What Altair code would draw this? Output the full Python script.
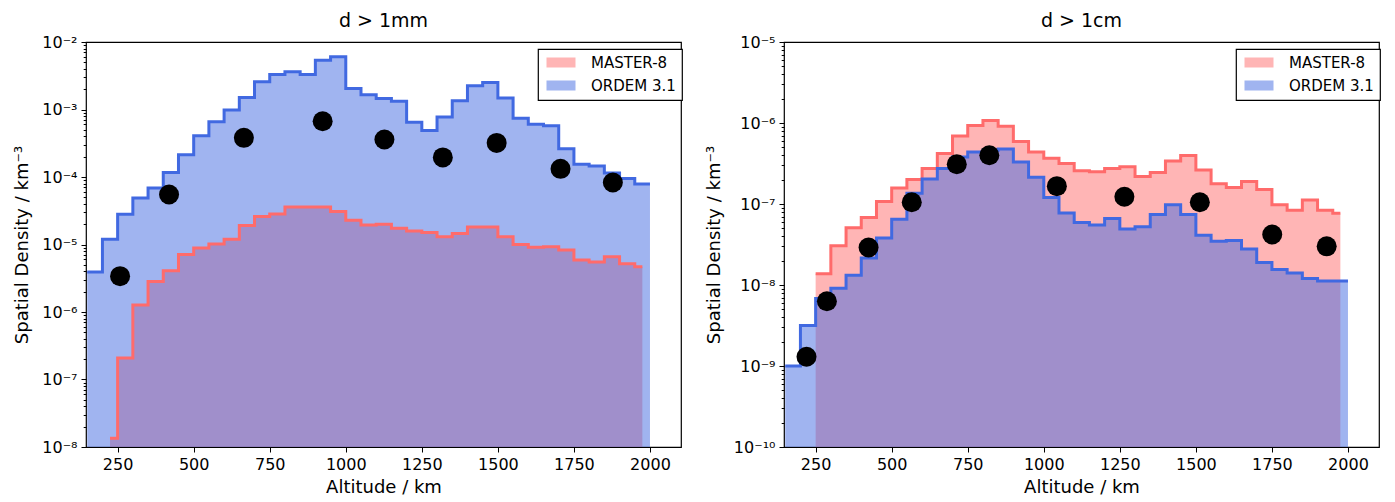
import altair as alt
import pandas as pd

# ---------------- data ----------------
# d > 1mm panel
ordem_1mm_alt = list(range(150, 2000, 50))
ordem_1mm_end = 2000
ordem_1mm_val = [3.9e-6, 1.2e-5, 2.8e-5, 4.9e-5, 6.9e-5, 1.17e-4, 2.14e-4, 4.07e-4, 6.6e-4,
                 9.8e-4, 1.51e-3, 2.57e-3, 3.31e-3, 3.63e-3, 3.31e-3, 5.37e-3, 6.03e-3,
                 2.04e-3, 1.66e-3, 1.45e-3, 1.32e-3, 6.46e-4, 4.9e-4, 7.76e-4, 1.35e-3,
                 2.24e-3, 2.51e-3, 1.48e-3, 7.41e-4, 6.03e-4, 5.75e-4, 2.63e-4, 1.55e-4,
                 1.45e-4, 1.15e-4, 9.5e-5, 7.9e-5]
master_1mm_alt = [225] + list(range(250, 2000, 50))
master_1mm_end = 1975
master_1mm_val = [1.35e-8, 2.09e-7, 1.27e-6, 2.82e-6, 4.07e-6, 7.08e-6, 8.9e-6, 1.02e-5, 1.2e-5,
                  1.91e-5, 2.6e-5, 2.82e-5, 3.59e-5, 3.59e-5, 3.59e-5, 3.09e-5, 2.29e-5,
                  1.95e-5, 2.0e-5, 1.74e-5, 1.58e-5, 1.51e-5, 1.30e-5, 1.46e-5, 1.82e-5,
                  1.82e-5, 1.30e-5, 1.0e-5, 9.1e-6, 9.3e-6, 8.3e-6, 5.9e-6, 5.5e-6, 6.6e-6,
                  5.2e-6, 4.7e-6]
obs_1mm_alt = [258, 419, 665, 924, 1127, 1319, 1496, 1706, 1878]
obs_1mm_val = [3.4e-6, 5.5e-5, 3.8e-4, 6.7e-4, 3.6e-4, 1.95e-4, 3.2e-4, 1.32e-4, 8.3e-5]

# d > 1cm panel
ordem_1cm_alt = list(range(150, 2000, 50))
ordem_1cm_end = 2000
ordem_1cm_val = [1.0e-9, 3.16e-9, 6.8e-9, 9.1e-9, 1.32e-8, 2.16e-8, 3.8e-8, 6.46e-8, 1.36e-7,
                 2.04e-7, 2.75e-7, 3.8e-7, 4.37e-7, 4.62e-7, 4.79e-7, 3.31e-7, 2.14e-7,
                 1.2e-7, 7.76e-8, 5.89e-8, 5.5e-8, 6.6e-8, 4.9e-8, 5.25e-8, 7.4e-8, 9.8e-8,
                 7.4e-8, 4.12e-8, 3.47e-8, 3.55e-8, 2.79e-8, 1.9e-8, 1.55e-8, 1.41e-8,
                 1.2e-8, 1.12e-8, 1.12e-8]
master_1cm_alt = list(range(250, 2000, 50))
master_1cm_end = 1975
master_1cm_val = [1.38e-8, 3.05e-8, 5.1e-8, 6.8e-8, 1.07e-7, 1.58e-7, 2.0e-7, 2.75e-7, 4.2e-7,
                  6.9e-7, 9.3e-7, 1.07e-6, 9.1e-7, 5.9e-7, 4.37e-7, 3.67e-7, 3.16e-7,
                  2.57e-7, 2.51e-7, 2.75e-7, 2.88e-7, 2.19e-7, 2.45e-7, 3.39e-7, 3.98e-7,
                  2.63e-7, 1.78e-7, 1.6e-7, 1.9e-7, 1.51e-7, 9.8e-8, 8.4e-8, 1.12e-7, 8.4e-8,
                  7.7e-8]
obs_1cm_alt = [220, 287, 424, 566, 714, 821, 1043, 1265, 1513, 1751, 1930]
obs_1cm_val = [1.3e-9, 6.3e-9, 2.9e-8, 1.05e-7, 3.1e-7, 4.0e-7, 1.66e-7, 1.23e-7, 1.05e-7,
               4.2e-8, 3.0e-8]

models = ["MASTER-8", "ORDEM 3.1"]
model_colors = ["#ff6b6b", "#4169e1"]

x_ticks = [250, 500, 750, 1000, 1250, 1500, 1750, 2000]
y_major_1mm = [1e-8, 1e-7, 1e-6, 1e-5, 1e-4, 1e-3, 1e-2]
y_labels_1mm = ["10⁻⁸", "10⁻⁷", "10⁻⁶", "10⁻⁵", "10⁻⁴", "10⁻³", "10⁻²"]
y_major_1cm = [1e-10, 1e-9, 1e-8, 1e-7, 1e-6, 1e-5]
y_labels_1cm = ["10⁻¹⁰", "10⁻⁹", "10⁻⁸", "10⁻⁷", "10⁻⁶", "10⁻⁵"]

W, H = 595, 405
X_DOMAIN = [146, 2102]
FONT = "DejaVu Sans"


def step_frame(alts, vals, end, model, base):
    return pd.DataFrame({"alt": list(alts) + [end],
                         "val": list(vals) + [vals[-1]],
                         "base": base,
                         "model": model})


def minor_ticks(majors):
    out = []
    for m in majors[:-1]:
        out += [k * m for k in range(1, 10)]
    out.append(majors[-1])
    return out


def panel(title, master, ordem, obs, majors, labels):
    base = majors[0]
    master_df = step_frame(*master, models[0], base)
    ordem_df = step_frame(*ordem, models[1], base)
    obs_df = pd.DataFrame({"alt": obs[0], "val": obs[1]})

    parts = [f"abs(datum.value/{v:g}-1)<1e-6 ? '{l}'" for v, l in zip(majors, labels)]
    label_expr = " : ".join(parts) + " : ''"
    major_test = "abs(log(datum.value)/LN10 - round(log(datum.value)/LN10)) < 1e-6"

    x = alt.X("alt:Q", scale=alt.Scale(domain=X_DOMAIN, nice=False, zero=False),
              axis=alt.Axis(title="Altitude / km", values=x_ticks, format="d",
                            tickSize=5, labelPadding=4, titlePadding=6))
    y = alt.Y("val:Q",
              scale=alt.Scale(type="log", domain=[majors[0], majors[-1]], nice=False),
              axis=alt.Axis(title="Spatial Density / km⁻³", values=minor_ticks(majors),
                            labelExpr=label_expr, labelOverlap=False,
                            tickSize={"condition": {"test": major_test, "value": 5},
                                      "value": 2.8},
                            labelPadding=4, titlePadding=10))
    cscale = alt.Scale(domain=models, range=model_colors)
    legend = alt.Legend(title=None, orient="none", legendX=W - 143, legendY=7,
                        symbolType="M-1,-1L4.8,-1L4.8,1L-1,1Z", symbolSize=100,
                        symbolOpacity=0.5, symbolStrokeWidth=0,
                        labelFontSize=15, labelFont=FONT, labelOffset=32,
                        padding=6, rowPadding=7, strokeColor="black",
                        fillColor="white", cornerRadius=0)

    def area(df):
        return alt.Chart(df).mark_area(interpolate="step-after", opacity=0.5, clip=True).encode(
            x=x, y=y, y2="base:Q",
            color=alt.Color("model:N", scale=cscale, legend=legend))

    def line(df, c):
        return alt.Chart(df).mark_line(interpolate="step-after", color=c, strokeWidth=3,
                                       clip=True).encode(x=x, y=y)

    dots = alt.Chart(obs_df).mark_circle(size=400, color="black", opacity=1).encode(x=x, y=y)

    return alt.layer(
        area(master_df), area(ordem_df),
        line(master_df, model_colors[0]), line(ordem_df, model_colors[1]),
        dots
    ).properties(width=W, height=H,
                 title=alt.TitleParams(title, fontSize=19, font=FONT, fontWeight="normal",
                                       offset=3, anchor="middle", frame="group"))


left = panel("d > 1mm",
             (master_1mm_alt, master_1mm_val, master_1mm_end),
             (ordem_1mm_alt, ordem_1mm_val, ordem_1mm_end),
             (obs_1mm_alt, obs_1mm_val),
             y_major_1mm, y_labels_1mm)
right = panel("d > 1cm",
              (master_1cm_alt, master_1cm_val, master_1cm_end),
              (ordem_1cm_alt, ordem_1cm_val, ordem_1cm_end),
              (obs_1cm_alt, obs_1cm_val),
              y_major_1cm, y_labels_1cm)

chart = alt.hconcat(left, right, spacing=103, bounds="flush").resolve_legend(
    color="independent"
).properties(
    padding={"left": 5, "top": 3, "right": 5, "bottom": 5}
).configure(font=FONT).configure_axis(
    grid=False, domain=False, labelFont=FONT, labelFontSize=16, labelColor="black",
    titleFont=FONT, titleFontSize=18, titleFontWeight="normal", titleColor="black",
    tickColor="black", tickWidth=1
).configure_view(
    stroke="black", strokeWidth=1.2
).configure_legend(strokeWidth=1.2)

chart.save("out.html", embed_options={"renderer": "svg", "actions": False})
